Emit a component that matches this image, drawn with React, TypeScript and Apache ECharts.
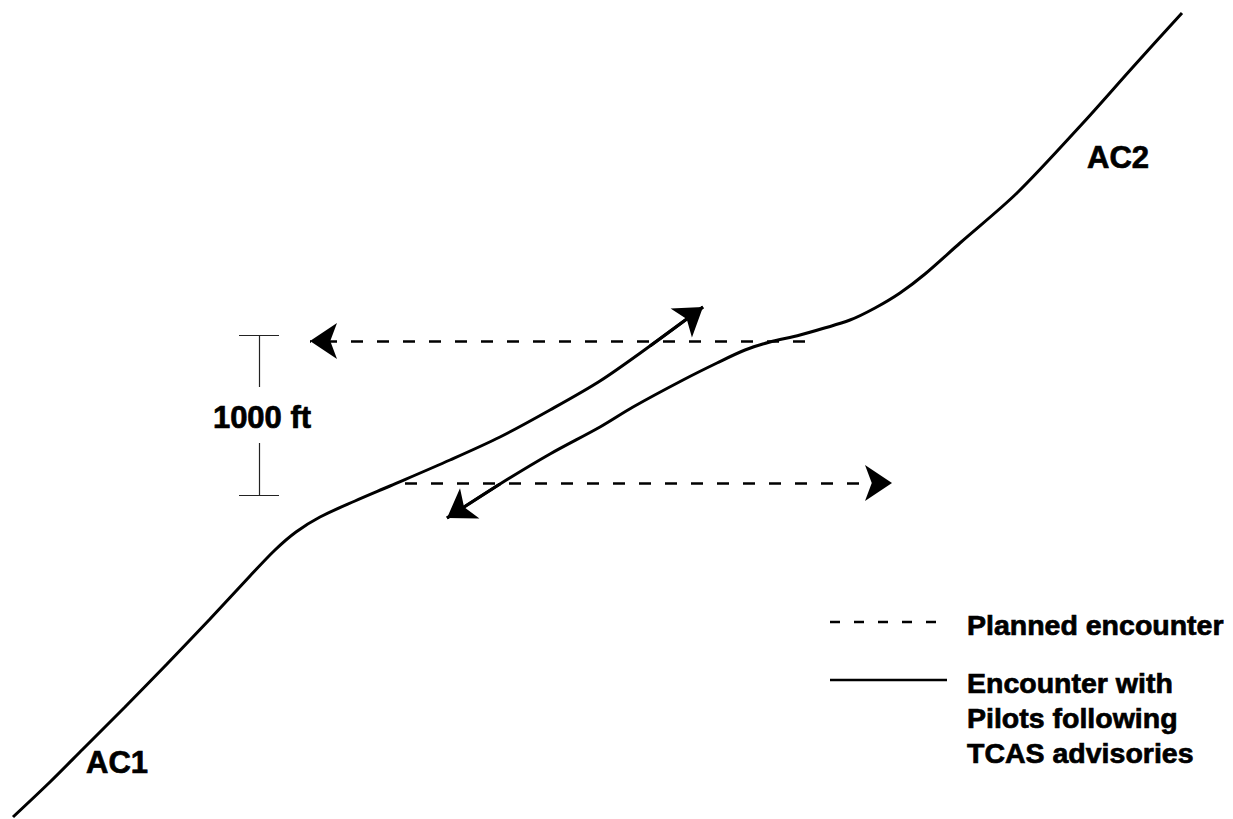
import { useEffect, useRef } from "react";
import * as echarts from "echarts";

// Aircraft tracks (distance, altitude in chart units; altitude axis inverted)
const ac1Track: [number, number][] = [
  [13, 817], [50, 782], [83, 749], [125, 707], [167, 664], [210, 619], [250, 576],
  [275, 550], [296, 532], [320, 517], [355, 501], [390, 486], [450, 460],
  [500, 437], [550, 410], [600, 381], [650, 346], [703, 307],
];
const ac2Track: [number, number][] = [
  [1182, 13], [1133, 67], [1083, 123], [1017, 193], [960, 243], [925, 274], [900, 293],
  [875, 308], [850, 320], [800, 335], [770, 342], [745, 350], [717, 363], [683, 380],
  [633, 407], [600, 427], [550, 454], [500, 484], [447, 518],
];
// Planned level flights
const plannedAc1: [number, number][] = [[405, 483], [892, 483]];
const plannedAc2: [number, number][] = [[805, 341], [310, 341]];
// 1000 ft separation bracket
const bracketX = 259;
const bracketHalfWidth = 20;
const bracketTop = 335;
const bracketBottom = 495;
const bracketGapTop = 387;
const bracketGapBottom = 443;

const separationLabel = "1000 ft";
const aircraftLabels = ["AC1", "AC2"];
const plannedLabel = "Planned encounter";
const tcasLabelLines = ["Encounter with", "Pilots following", "TCAS advisories"];

export default function App() {
  const ref = useRef<HTMLDivElement>(null);
  useEffect(() => {
    if (!ref.current) return;
    const chart = echarts.init(ref.current, undefined, { renderer: "svg" });
    const black = "#000";
    const font = "bold 31px 'Liberation Sans', Arial, Helvetica, sans-serif";
    const legendFont = "bold 28.5px 'Liberation Sans', Arial, Helvetica, sans-serif";
    const txt = (text: string, x: number, y: number, f: string, align = "left") => ({
      type: "text",
      x,
      y,
      silent: true,
      style: {
        text,
        fill: black,
        stroke: black,
        lineWidth: 0.7,
        font: f,
        textAlign: align,
        align,
        textVerticalAlign: "middle",
        verticalAlign: "middle",
      },
    });
    const seg = (a: [number, number], b: [number, number]) => ({ coords: [a, b] });
    chart.setOption({
      animation: false,
      backgroundColor: "#fff",
      grid: { left: 0, right: 0, top: 0, bottom: 0, containLabel: false },
      xAxis: { type: "value", min: 0, max: 1233, show: false },
      yAxis: { type: "value", min: 0, max: 819, inverse: true, show: false },
      series: [
        {
          name: "Encounter with Pilots following TCAS advisories (AC1)",
          type: "line",
          data: ac1Track,
          smooth: 0.3,
          showSymbol: false,
          lineStyle: { color: black, width: 3 },
          silent: true,
        },
        {
          name: "Encounter with Pilots following TCAS advisories (AC2)",
          type: "line",
          data: ac2Track,
          smooth: 0.3,
          showSymbol: false,
          lineStyle: { color: black, width: 3 },
          silent: true,
        },
        {
          name: "TCAS arrows",
          type: "lines",
          coordinateSystem: "cartesian2d",
          symbol: ["none", "arrow"],
          symbolSize: 27,
          lineStyle: { color: black, width: 3, type: "solid", opacity: 1 },
          data: [
            seg(ac1Track[ac1Track.length - 2], ac1Track[ac1Track.length - 1]),
            seg(ac2Track[ac2Track.length - 2], ac2Track[ac2Track.length - 1]),
          ],
          silent: true,
        },
        {
          name: "Planned encounter",
          type: "lines",
          coordinateSystem: "cartesian2d",
          symbol: ["none", "arrow"],
          symbolSize: 27,
          lineStyle: { color: black, width: 2.5, type: [12, 14], opacity: 1 },
          data: [seg(plannedAc1[0], plannedAc1[1]), seg(plannedAc2[0], plannedAc2[1])],
          silent: true,
        },
        {
          name: "Separation",
          type: "lines",
          coordinateSystem: "cartesian2d",
          symbol: "none",
          lineStyle: { color: "#222", width: 1.2, type: "solid", opacity: 1 },
          data: [
            seg([bracketX - bracketHalfWidth, bracketTop], [bracketX + bracketHalfWidth, bracketTop]),
            seg([bracketX, bracketTop], [bracketX, bracketGapTop]),
            seg([bracketX, bracketGapBottom], [bracketX, bracketBottom]),
            seg([bracketX - bracketHalfWidth, bracketBottom], [bracketX + bracketHalfWidth, bracketBottom]),
          ],
          silent: true,
        },
      ],
      graphic: [
        txt(separationLabel, 262, 417, font, "center"),
        txt(aircraftLabels[0], 86, 762, font),
        txt(aircraftLabels[1], 1087, 157, font),
        {
          type: "line",
          silent: true,
          shape: { x1: 830, y1: 622, x2: 940, y2: 622 },
          style: { stroke: black, lineWidth: 2.5, lineDash: [10, 14] },
        },
        {
          type: "line",
          silent: true,
          shape: { x1: 830, y1: 680, x2: 947, y2: 680 },
          style: { stroke: black, lineWidth: 2.5 },
        },
        txt(plannedLabel, 967, 625, legendFont),
        txt(tcasLabelLines[0], 967, 683, legendFont),
        txt(tcasLabelLines[1], 967, 718, legendFont),
        txt(tcasLabelLines[2], 967, 753, legendFont),
      ],
    });
    return () => chart.dispose();
  }, []);
  return (
    <div
      ref={ref}
      style={{ position: "fixed", left: 0, top: 0, width: 1233, height: 819, background: "#fff" }}
    />
  );
}
